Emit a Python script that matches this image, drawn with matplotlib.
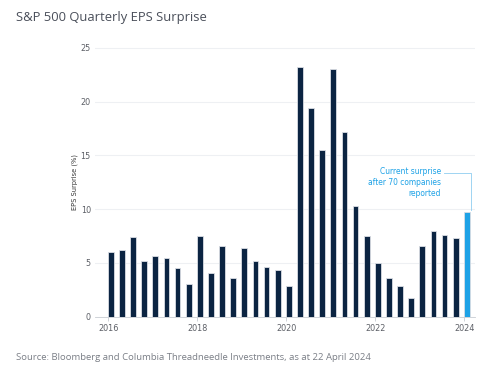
import matplotlib
matplotlib.use("Agg")
import matplotlib.pyplot as plt

# Quarterly EPS surprise (%), 2016 Q1 .. 2024 Q1 (last one is partial)
years = [2016] * 4 + [2017] * 4 + [2018] * 4 + [2019] * 4 + \
        [2020] * 4 + [2021] * 4 + [2022] * 4 + [2023] * 4 + [2024]
quarters = [1, 2, 3, 4] * 8 + [1]
surprise = [
    6.0, 6.2, 7.4, 5.2,
    5.6, 5.5, 4.5, 3.0,
    7.5, 4.1, 6.6, 3.6,
    6.4, 5.2, 4.6, 4.3,
    2.9, 23.2, 19.4, 15.5,
    23.0, 17.2, 10.3, 7.5,
    5.0, 3.6, 2.9, 1.7,
    6.6, 8.0, 7.6, 7.3,
    9.7,
]
yearTicks = [2016, 2018, 2020, 2022, 2024]
yTicks = [0, 5, 10, 15, 20, 25]

navy = "#0b2442"
blue = "#1ea2e6"
grey = "#5c5f66"
narrow = dict(family="DejaVu Sans", stretch="condensed")

xs = [y + (q - 1) / 4 + 0.055 for y, q in zip(years, quarters)]
colors = [navy] * (len(surprise) - 1) + [blue]

fig = plt.figure(figsize=(4.9, 3.69), dpi=100)
ax = fig.add_axes([95 / 490, 1 - 316.7 / 369, 380 / 490, 269.4 / 369])

ax.bar(xs, surprise, width=0.13, color=colors, edgecolor="#d9dde3",
       linewidth=0.6, zorder=3)

ax.set_xlim(2015.70, 2024.24)
ax.set_ylim(0, 25.05)
ax.set_xticks(yearTicks)
ax.set_xticklabels([str(y) for y in yearTicks], fontsize=6.5, color=grey,
                   **narrow)
ax.set_yticks(yTicks)
ax.set_yticklabels([str(v) for v in yTicks], fontsize=6.5, color=grey,
                   **narrow)
ax.tick_params(axis="y", length=0, pad=3)
ax.tick_params(axis="x", length=3, color="#c8ccd2", width=0.6, pad=2)

ax.grid(axis="y", color="#eef0f3", linewidth=0.8, zorder=0)
for side in ["top", "right", "left"]:
    ax.spines[side].set_visible(False)
ax.spines["bottom"].set_color("#c8ccd2")
ax.spines["bottom"].set_linewidth(0.6)

ax.set_ylabel("EPS Surprise (%)", fontsize=5.3, color="#333333",
              labelpad=2, **narrow)

# Annotation for the latest (partial) quarter
ax.text(2023.476, 12.5, "Current surprise\nafter 70 companies\nreported",
        ha="right", va="center", fontsize=6.0, color=blue,
        linespacing=1.3, **narrow)
ax.plot([2023.54, 2024.15, 2024.15], [13.4, 13.4, 9.95],
        color="#8fcdf0", linewidth=0.6, clip_on=False)

fig.text(16 / 490, 1 - 17 / 369, "S&P 500 Quarterly EPS Surprise",
         family=["Open Sans", "DejaVu Sans"], fontsize=9.4, color="#4a4f5a",
         va="center")
fig.text(16 / 490, 1 - 357 / 369,
         "Source: Bloomberg and Columbia Threadneedle Investments, as at 22 April 2024",
         family=["Open Sans", "DejaVu Sans"], fontsize=6.8, color="#7a7e86",
         va="center")

fig.savefig("out.png", dpi=100)
